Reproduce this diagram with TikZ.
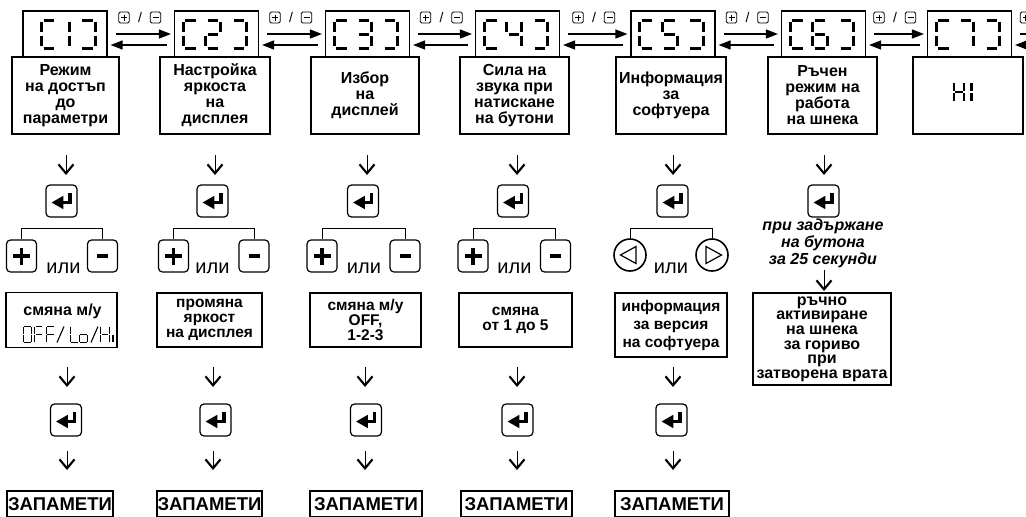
\documentclass[tikz,border=0pt]{standalone}
\usepackage{fontspec}
\setmainfont{Liberation Sans}
\usetikzlibrary{arrows.meta}

% seven-segment cell: x and y run from -1 to 1, y pointing down
\def\segA{-0.72/-1/0.72/-1}
\def\segB{1/-0.88/1/-0.12}
\def\segC{1/0.12/1/0.88}
\def\segD{-0.72/1/0.72/1}
\def\segE{-1/0.12/-1/0.88}
\def\segF{-1/-0.88/-1/-0.12}
\def\segG{-0.72/0/0.72/0}
\edef\sgLB{\segA,\segF,\segE,\segD}
\edef\sgRB{\segA,\segB,\segC,\segD}
\edef\sgOne{\segB,\segC}
\edef\sgTwo{\segA,\segB,\segG,\segE,\segD}
\edef\sgThree{\segA,\segB,\segG,\segC,\segD}
\edef\sgFour{\segF,\segG,\segB,\segC}
\edef\sgFive{\segA,\segF,\segG,\segC,\segD}
\edef\sgSix{\segA,\segF,\segG,\segE,\segD,\segC}
\edef\sgSeven{\segA,\segB,\segC}
\edef\sgZero{\segA,\segB,\segC,\segD,\segE,\segF}
\edef\sgEf{\segA,\segF,\segE,\segG}
\edef\sgEl{\segF,\segE,\segD}
\edef\sgSmallO{\segG,\segC,\segD,\segE}
\edef\sgAitch{\segF,\segE,\segB,\segC,\segG}
\edef\sgSmallI{\segE}

% #1 style, #2 x, #3 y, #4 half width, #5 half height, #6 segment list
\newcommand\lcd[6]{%
  \edef\lcdlist{#6}%
  \begin{scope}[shift={(#2,#3)},x=#4pt,y=-#5pt]
    \foreach \xa/\ya/\xb/\yb in \lcdlist {\draw[#1] (\xa,\ya) -- (\xb,\yb);}
  \end{scope}}

\tikzset{
  panel/.style={draw, line width=1.1pt, inner sep=0pt},
  disp/.style={panel, minimum width=84pt, minimum height=46pt},
  desc/.style={panel, minimum height=77pt, align=center,
    font=\fontsize{16}{16}\selectfont\bfseries},
  result/.style={panel, align=center, font=\fontsize{15.5}{14.8}\selectfont\bfseries},
  storebox/.style={panel, minimum height=26pt, font=\fontsize{18.5}{18.5}\selectfont\bfseries},
  keybox/.style={draw, line width=1.2pt, rounded corners=4pt, minimum width=30pt,
    minimum height=32pt, inner sep=0pt},
  enterbox/.style={keybox, minimum width=31pt},
  roundkey/.style={draw, circle, line width=1.6pt, minimum size=32pt, inner sep=0pt},
  minikey/.style={draw, line width=0.9pt, rounded corners=1.5pt, minimum width=10.5pt,
    minimum height=11pt, inner sep=0pt},
  hr/.style={-{Triangle[length=12pt,width=9pt]}, line width=1.2pt},
  dnarrow/.style={-{Straight Barb[length=9pt,width=15pt,line width=2.1pt]}, line width=1pt},
  fork/.style={line width=1pt},
  lcdseg/.style={line width=3pt},
  lcdsmall/.style={line width=2.6pt},
  lcdthin/.style={line width=1.1pt},
  ili/.style={anchor=base, font=\fontsize{20}{20}\selectfont},
  enterglyph/.pic={
    \fill (-9.8,1.5) -- (1.8,-5.2) -- (1.8,8.2) -- cycle;
    \fill (1,-0.2) rectangle (10.4,3.3);
    \fill (6.9,-8.2) rectangle (10.4,3.3);},
  plusglyph/.pic={\draw[line width=3.4pt] (-8.5,0) -- (8.5,0) (0,-8.5) -- (0,8.5);},
  minusglyph/.pic={\draw[line width=3.6pt] (-5.5,0) -- (5.5,0);},
  miniplus/.pic={\draw[line width=0.9pt] (-3,0) -- (3,0) (0,-3) -- (0,3);},
  miniminus/.pic={\draw[line width=0.9pt] (-3,0) -- (3,0);},
  lefttri/.pic={\draw[line width=1.2pt] (-9.5,0) -- (6,-8.5) -- (6,8.5) -- cycle;},
  righttri/.pic={\draw[line width=1.2pt] (9.5,0) -- (-6,-8.5) -- (-6,8.5) -- cycle;},
}

\begin{document}
\begin{tikzpicture}[x=1pt,y=-1pt]
\useasboundingbox (0,0) rectangle (1026,517);
\clip (0,0) rectangle (1026,517);
\fill[white] (0,0) rectangle (1026,517);

% ---- menu displays C1 ... C7
\foreach \n/\x in {1/65,2/216.5,3/367.5,4/517.5,5/673,6/823.5,7/969.5}
  {\node[disp] (c\n) at (\x,34) {};}
\coordinate (c8w) at (1079,34);

\lcd{lcdseg}{49}{34}{7.5}{14}{\sgLB}
\lcd{lcdseg}{61.5}{34}{7.5}{14}{\sgOne}
\lcd{lcdseg}{87.5}{34}{7.5}{14}{\sgRB}
\foreach \x/\g in {216.5/\sgTwo,367.5/\sgThree,517.5/\sgFour,673/\sgFive,823.5/\sgSix,969.5/\sgSeven}{
  \lcd{lcdseg}{\x-26}{34}{7.5}{14}{\sgLB}
  \lcd{lcdseg}{\x-3.5}{34}{7.5}{14}{\g}
  \lcd{lcdseg}{\x+22.5}{34}{7.5}{14}{\sgRB}
}

% ---- scrolling arrows between displays
\foreach \a/\b in {c1/c2,c2/c3,c3/c4,c4/c5,c5/c6,c6/c7}{
  \draw[hr] ([xshift=8pt]\a.east) -- ([xshift=-3pt]\b.west);
  \draw[hr] ([shift={(-7,11)}]\b.west) -- ([shift={(3,11)}]\a.east);
}
\draw[hr] ([xshift=8pt]c7.east) -- ([xshift=-3pt]c8w);
\draw[hr] ([shift={(-7,11)}]c8w) -- ([shift={(3,11)}]c7.east);

% ---- "+ / -" hints above the arrows
\foreach \i/\m in {1/141,2/292,3/442.5,4/595,5/748.5,6/896}{
  \node[minikey] (kp\i) at (\m-17,17.5) {};
  \pic at (kp\i) {miniplus};
  \node[font=\fontsize{14}{14}\selectfont] (ks\i) at (\m-1,17.5) {/};
  \node[minikey] (km\i) at (\m+14.5,17.5) {};
  \pic at (km\i) {miniminus};
}
\node[minikey] (kp7) at (1025.5,17.5) {};
\pic at (kp7) {miniplus};

% ---- descriptions under the displays
\node[desc, minimum width=107pt] (t1) at (65.5,95.5) {Режим\\на достъп\\до\\параметри};
\node[desc, minimum width=110pt] (t2) at (215,95.5) {Настройка\\яркоста\\на\\дисплея};
\node[desc, minimum width=108pt] (t3) at (365,95.5) {Избор\\на\\дисплей};
\node[desc, minimum width=109pt] (t4) at (514.5,95.5) {Сила на\\звука при\\натискане\\на бутони};
\node[desc, minimum width=110pt] (t5) at (671,95.5) {Информация\\за\\софтуера};
\node[desc, minimum width=109pt] (t6) at (822.5,95.5) {Ръчен\\режим на\\работа\\на шнека};
\node[desc, minimum width=110pt] (t7) at (968,95.5) {};
\lcd{lcdsmall}{959}{92}{5}{10}{\sgAitch}
\lcd{lcdsmall}{966.5}{92}{5}{10}{\sgOne}

% ---- first arrows and enter keys
\foreach \i/\x in {1/66,2/215,3/367,4/517,5/673,6/824}{
  \coordinate (ua\i) at (\x,155);
  \coordinate (ub\i) at (\x,175);
  \draw[dnarrow] (ua\i) -- (ub\i);
}
\foreach \i/\x in {1/61.5,2/212.5,3/363,4/513,5/672.5,6/823.5}{
  \node[enterbox] (e\i) at (\x,201) {};
  \pic at (e\i) {enterglyph};
}

% ---- "+ or -" choices
\foreach \i/\p/\q/\w in {1/21.5/102.5/63.5,2/173.5/254/212.5,3/322/405/364,4/473/555.5/514.5}{
  \node[keybox] (p\i) at (\p,256) {};
  \pic at (p\i) {plusglyph};
  \node[keybox] (m\i) at (\q,256) {};
  \pic at (m\i) {minusglyph};
  \draw[fork] (p\i.north) -- ++(0,-11) -| (m\i.north);
  \node[ili] (o\i) at (\w,273.3) {или};
}
\node[roundkey] (lk5) at (630,255) {};
\pic at (lk5) {lefttri};
\node[roundkey] (rk5) at (712,255) {};
\pic at (rk5) {righttri};
\draw[fork] (lk5.north) -- ++(0,-10) -| (rk5.north);
\node[ili] (o5) at (671,273.3) {или};

% ---- manual auger column
\node[font=\fontsize{16}{17}\selectfont\bfseries\itshape, align=center] (hold) at (823,243)
  {при задържане\\на бутона\\за 25 секунди};
\coordinate (hc1) at (824,270);
\coordinate (hc2) at (824,291);
\draw[dnarrow] (hc1) -- (hc2);

% ---- results of the choice
\node[result, minimum width=111pt, minimum height=55pt] (r1) at (61.5,320) {};
\node[anchor=base, font=\fontsize{16}{16}\selectfont\bfseries] (r1a) at (62.5,315) {смяна м/у};
\lcd{lcdthin}{27.5}{334.5}{4.3}{8}{\sgZero}
\lcd{lcdthin}{39}{334.5}{4.3}{8}{\sgEf}
\lcd{lcdthin}{50.5}{334.5}{4.3}{8}{\sgEf}
\draw[lcdthin] (57,342.5) -- (64,326.5);
\lcd{lcdthin}{74.5}{334.5}{4.3}{8}{\sgEl}
\lcd{lcdthin}{83.5}{334.5}{4.3}{8}{\sgSmallO}
\draw[lcdthin] (91,342.5) -- (98,326.5);
\lcd{lcdthin}{105}{334.5}{4.3}{8}{\sgAitch}
\lcd{lcdthin}{117.3}{334.5}{4.3}{8}{\sgSmallI}
\node[result, minimum width=105pt, minimum height=54pt] (r2) at (209.5,320) {промяна\\яркост\\на дисплея};
\node[result, minimum width=111pt, minimum height=54pt] (r3) at (365.5,320) {смяна м/у\\OFF,\\1-2-3};
\node[result, minimum width=113pt, minimum height=54pt] (r4) at (515.5,320) {смяна\\от 1 до 5};
\node[result, minimum width=112pt, minimum height=64pt, font=\fontsize{15.5}{18}\selectfont\bfseries]
  (r5) at (671,325) {информация\\за версия\\на софтуера};
\node[result, minimum width=138pt, minimum height=92pt] (r6) at (822,339) {};
\node[anchor=north, align=center, inner sep=0pt, font=\fontsize{16}{14.6}\selectfont\bfseries]
  (r6a) at (822,296.5)
  {ръчно\\активиране\\на шнека\\за гориво\\при\\затворена врата};

% ---- confirm and save
\foreach \i/\x in {1/67,2/213,3/365,4/517,5/673}{
  \coordinate (va\i) at (\x,367);
  \coordinate (vb\i) at (\x,387);
  \draw[dnarrow] (va\i) -- (vb\i);
  \coordinate (wa\i) at (\x,451);
  \coordinate (wb\i) at (\x,470);
  \draw[dnarrow] (wa\i) -- (wb\i);
}
\foreach \i/\x in {1/66,2/215.5,3/366,4/517.5,5/671.5}{
  \node[enterbox] (f\i) at (\x,420) {};
  \pic at (f\i) {enterglyph};
}
\foreach \i/\x/\w in {1/60/106,2/209.5/105,3/366/112,4/516.5/111,5/672/114}{
  \node[storebox, minimum width=\w pt] (s\i) at (\x,504) {ЗАПАМЕТИ};
}
\end{tikzpicture}
\end{document}
